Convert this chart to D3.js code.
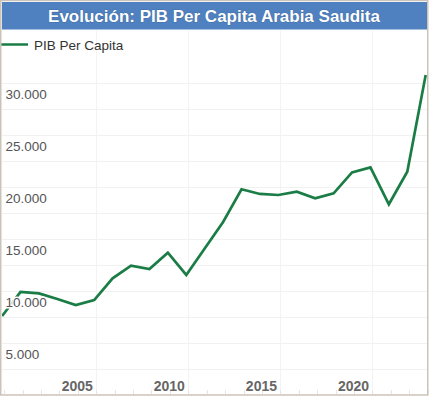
<!DOCTYPE html>
<html>
<head>
<meta charset="utf-8">
<script src="https://cdn.jsdelivr.net/npm/d3@7"></script>
<style>
  html, body { margin: 0; padding: 0; background: #fff; }
  svg { display: block; font-family: "Liberation Sans", Arial, sans-serif; }
</style>
</head>
<body>
<svg id="chart"></svg>
<script>
// data
const years = [2001, 2002, 2003, 2004, 2005, 2006, 2007, 2008, 2009, 2010, 2011, 2012,
               2013, 2014, 2015, 2016, 2017, 2018, 2019, 2020, 2021, 2022, 2023, 2024];
const pibPerCapita = [7620, 9950, 9800, 9260, 8680, 9160, 11250, 12460, 12140, 13710, 11570, 14110,
                      16660, 19810, 19360, 19260, 19580, 18940, 19420, 21440, 21920, 18370, 21500, 30800];
const yTicks = [5000, 10000, 15000, 20000, 25000, 30000];
const xTicks = [2005, 2010, 2015, 2020];
const titleText = "Evolución: PIB Per Capita Arabia Saudita";
const seriesName = "PIB Per Capita";

const W = 429, H = 396;
const green = "#1b7d46";

const svg = d3.select("#chart").attr("width", W).attr("height", H);

const data = years.map((yr, i) => ({ year: yr, value: pibPerCapita[i] }));

const x = d3.scaleLinear().domain([2001, 2024]).range([2.1, 425.7]);
const y = d3.scaleLinear().domain([0, 30000]).range([395.3, 83.3]);

const es = d3.formatLocale({ decimal: ",", thousands: ".", grouping: [3], currency: ["", ""] });
const fmt = es.format(",");

// plot clip
svg.append("clipPath").attr("id", "plotClip")
  .append("rect").attr("x", 2).attr("y", 30).attr("width", 425).attr("height", 364);

// horizontal grid every 2500
const grid = svg.append("g");
grid.selectAll("line.h")
  .data(d3.range(2500, 30001, 2500))
  .join("line")
  .attr("class", "h")
  .attr("x1", 2).attr("x2", 427)
  .attr("y1", d => Math.round(y(d)) + 0.5).attr("y2", d => Math.round(y(d)) + 0.5)
  .attr("stroke", "#f1f1f1");

// vertical grid (sits a year after each label in the reference)
grid.selectAll("line.v")
  .data(xTicks.map(d => d + 1))
  .join("line")
  .attr("class", "v")
  .attr("x1", d => Math.round(x(d) + 2) + 0.5).attr("x2", d => Math.round(x(d) + 2) + 0.5)
  .attr("y1", 30).attr("y2", 394)
  .attr("stroke", "#f3f3f3");

// small yearly ticks along the bottom
grid.selectAll("line.t")
  .data(years)
  .join("line")
  .attr("class", "t")
  .attr("x1", d => Math.round(x(d) + 2) + 0.5).attr("x2", d => Math.round(x(d) + 2) + 0.5)
  .attr("y1", 390).attr("y2", 394)
  .attr("stroke", "#e6e6e6");

// series line
const line = d3.line().x(d => x(d.year)).y(d => y(d.value));
svg.append("path")
  .datum(data)
  .attr("clip-path", "url(#plotClip)")
  .attr("d", line)
  .attr("fill", "none")
  .attr("stroke", green)
  .attr("stroke-width", 2.7)
  .attr("stroke-linejoin", "miter");

// y labels inside the plot, under their grid line, with white halo
svg.append("g").selectAll("text")
  .data(yTicks)
  .join("text")
  .attr("x", 5.5)
  .attr("y", d => y(d) + 15.5)
  .attr("font-size", "13.5px")
  .attr("fill", "#555")
  .attr("stroke", "#fff")
  .attr("stroke-width", 3)
  .attr("paint-order", "stroke")
  .text(d => fmt(d));

// x labels
svg.append("g").selectAll("text")
  .data(xTicks)
  .join("text")
  .attr("x", d => x(d) + 1.5)
  .attr("y", 391)
  .attr("text-anchor", "middle")
  .attr("font-size", "14px")
  .attr("font-weight", "bold")
  .attr("fill", "#666")
  .text(d => d);

// legend
svg.append("line")
  .attr("x1", 0).attr("x2", 28).attr("y1", 44.5).attr("y2", 44.5)
  .attr("stroke", green).attr("stroke-width", 2.5);
svg.append("text")
  .attr("x", 34).attr("y", 49.5)
  .attr("font-size", "13.5px")
  .attr("fill", "#333")
  .text(seriesName);

// title bar
svg.append("rect")
  .attr("x", 2).attr("y", 2).attr("width", 425).attr("height", 27.5)
  .attr("fill", "#4f81c0");
svg.append("text")
  .attr("x", 214).attr("y", 21.5)
  .attr("text-anchor", "middle")
  .attr("font-size", "17px")
  .attr("font-weight", "bold")
  .attr("fill", "#fff")
  .attr("stroke", "#2f5a90")
  .attr("stroke-width", 0.6)
  .attr("paint-order", "stroke")
  .text(titleText);

// outer frame
svg.append("rect")
  .attr("x", 0.75).attr("y", 0.5).attr("width", 427).attr("height", 394.5)
  .attr("fill", "none")
  .attr("stroke", "#cbc3ba")
  .attr("stroke-width", 1.5);
</script>
</body>
</html>
